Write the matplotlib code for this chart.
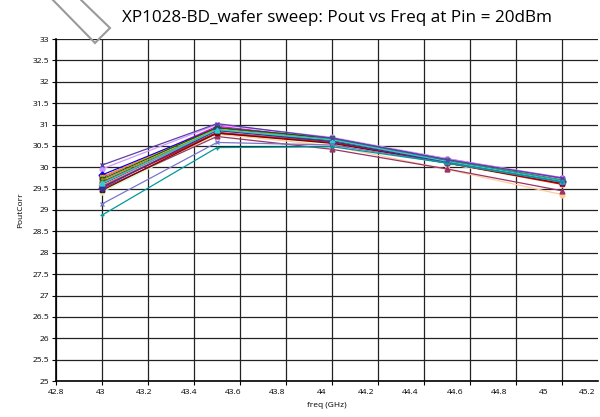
import matplotlib
matplotlib.use("Agg")
import matplotlib.pyplot as plt
from matplotlib.patches import Polygon
import numpy as np

freq = [43.0, 43.5, 44.0, 44.5, 45.0]

s01 = [30.05, 31.02, 30.68, 30.18, 29.75]
s02 = [29.96, 31.00, 30.70, 30.20, 29.76]
s03 = [29.82, 30.92, 30.62, 30.12, 29.68]
s04 = [29.78, 30.90, 30.64, 30.14, 29.66]
s05 = [29.72, 30.93, 30.68, 30.17, 29.70]
s06 = [29.70, 30.88, 30.62, 30.12, 29.65]
s07 = [29.66, 30.86, 30.60, 30.12, 29.64]
s08 = [29.64, 30.85, 30.66, 30.16, 29.70]
s09 = [29.60, 30.82, 30.62, 30.14, 29.67]
s10 = [29.58, 30.84, 30.60, 30.12, 29.64]
s11 = [29.56, 30.80, 30.60, 30.12, 29.62]
s12 = [29.54, 30.80, 30.58, 30.10, 29.60]
s13 = [29.50, 30.72, 30.42, 29.96, 29.45]
s14 = [29.48, 30.78, 30.50, 29.95, 29.36]
s15 = [29.46, 30.80, 30.56, 30.10, 29.62]
s16 = [29.42, 30.76, 30.56, 30.08, 29.60]
s17 = [29.52, 30.86, 30.60, 30.12, 29.66]
s18 = [29.62, 30.88, 30.64, 30.14, 29.68]
s19 = [29.14, 30.58, 30.52, 30.10, 29.65]
s20 = [28.88, 30.46, 30.48, 30.10, 29.66]
s21 = [29.76, 30.96, 30.66, 30.20, 29.74]

series = [s21, s16, s14, s02, s03, s04, s05, s06, s07, s08, s09, s10, s11,
          s12, s13, s15, s17, s18, s19, s20, s01]
colors = ['#FF00FF', '#CCFFCC', '#FFCC99', '#CC99FF', '#0000FF', '#FF9900',
          '#006600', '#999933', '#993300', '#339966', '#000000', '#FF99CC',
          '#808080', '#FF0000', '#993366', '#800000', '#333399', '#33CCCC',
          '#7777CC', '#009999', '#5B3FA8']
markers = ['o', 'o', 'o', 'o', 'D', 's', 's', '^', 's', 'o', '^', 'D', 'o',
           's', '^', 's', 'D', '^', 'x', '+', 'x']

xticks = [42.8, 43.0, 43.2, 43.4, 43.6, 43.8, 44.0, 44.2, 44.4, 44.6, 44.8, 45.0, 45.2]
yticks = [25, 25.5, 26, 26.5, 27, 27.5, 28, 28.5, 29, 29.5, 30, 30.5, 31, 31.5, 32, 32.5, 33]

FONT = ['Open Sans', 'DejaVu Sans']
plt.rcParams['font.family'] = FONT

fig = plt.figure(figsize=(6.0, 4.17), dpi=100)
ax = fig.add_axes([56/600, 1-381/417, 542/600, (381-39)/417])

for vals, c, m in zip(series, colors, markers):
    ax.plot(freq, vals, color=c, lw=0.9, marker=m, ms=3.5, mew=1.0)

ax.set_xlim(42.8, 42.8 + 542/230)
ax.set_ylim(25, 33)
ax.set_xticks(xticks[:-1])
ax.set_xticklabels([])
ax.set_yticks(yticks)
ax.set_yticklabels([f"{v:g}" for v in yticks], fontsize=6)
ax.grid(True, color='#222222', lw=0.9)
ax.set_axisbelow(True)
for s in ['top', 'right']:
    ax.spines[s].set_visible(False)
ax.spines['left'].set_linewidth(1.2)
ax.spines['bottom'].set_linewidth(1.2)
ax.tick_params(axis='both', direction='out', length=3, width=0.8, pad=2)

k = 44.3/46.0
sec = ax.secondary_xaxis('bottom',
                         functions=(lambda x: 42.8 + (np.asarray(x) - 42.8)/k,
                                    lambda s: 42.8 + (np.asarray(s) - 42.8)*k))
sec.set_xticks(xticks)
sec.set_xticklabels([f"{v:g}" for v in xticks], fontsize=6)
sec.tick_params(length=0, pad=6)
sec.spines['bottom'].set_visible(False)
sec.set_xlabel('freq (GHz)', fontsize=6, labelpad=4)

ax.set_ylabel('PoutCorr', fontsize=6, labelpad=6)

fig.text(337/600, 1-18/417, 'XP1028-BD_wafer sweep: Pout vs Freq at Pin = 20dBm',
         ha='center', va='center', fontsize=12.3, family=FONT)

pts = [(50, -3), (95, 43), (110, 28), (78, -3)]
poly = Polygon([(x/600, 1-y/417) for x, y in pts], closed=True, fill=False,
               edgecolor='#9a9a9a', lw=1.5, transform=fig.transFigure)
fig.patches.append(poly)

fig.savefig('out.png', dpi=100)
